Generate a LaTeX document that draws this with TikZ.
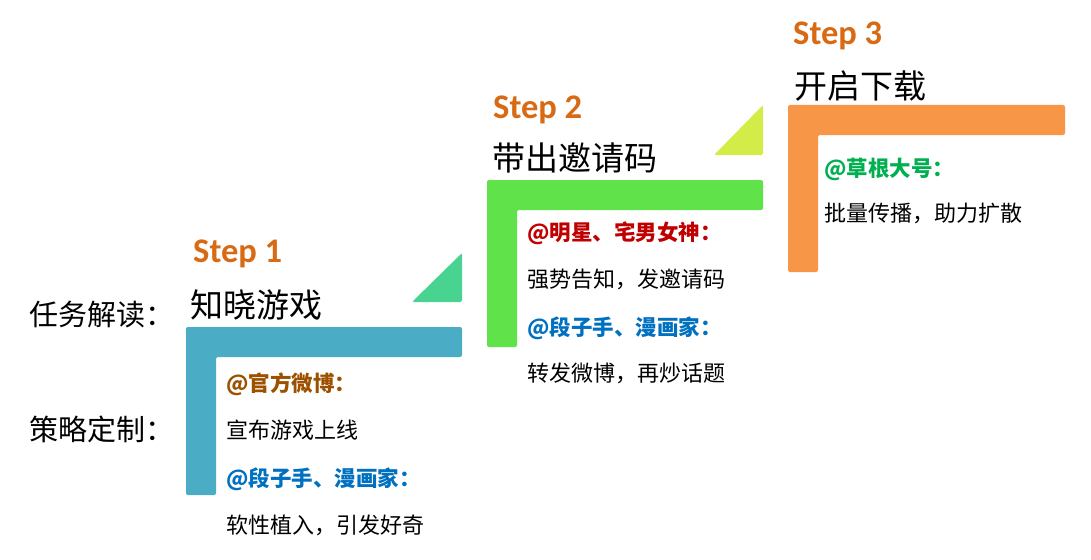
\documentclass[tikz,border=0pt]{standalone}
\usepackage{fontspec}
\setmainfont{Noto Sans CJK SC}
\newfontfamily\stepfont{Carlito}
\usetikzlibrary{positioning}

\definecolor{barA}{HTML}{4BACC6}
\definecolor{barB}{HTML}{5FE24A}
\definecolor{barC}{HTML}{F79646}
\definecolor{triA}{HTML}{48D490}
\definecolor{triB}{HTML}{D4EC48}
\definecolor{steporange}{HTML}{D86A14}
\definecolor{whoBrown}{HTML}{9C5100}
\definecolor{whoBlue}{HTML}{0070C0}
\definecolor{whoRed}{HTML}{C00000}
\definecolor{whoGreen}{HTML}{00B050}

\begin{document}
\begin{tikzpicture}[x=1pt,y=-1pt]
            \tikzstyle{steptitle}=[font=\stepfont\bfseries\fontsize{34.5}{34.5}\selectfont,text=steporange,anchor=base west,inner sep=0]
            \tikzstyle{task}=[font=\fontsize{33}{33}\selectfont,anchor=base west,inner sep=0]
            \tikzstyle{side}=[font=\fontsize{29}{29}\selectfont,anchor=base west,inner sep=0]
            \tikzstyle{act}=[font=\fontsize{22}{22}\selectfont,anchor=base west,inner sep=0]     % plain line
            \tikzstyle{who}=[act,font=\bfseries\fontsize{21.5}{21.5}\selectfont]               % account line
            \tikzstyle{bar}=[rounded corners=2pt]

            \useasboundingbox (0,0) rectangle (1091,559);

            % step shapes
            \fill[bar,barA] (186,327) -- (462,327) -- (462,357) -- (216,357) -- (216,495) -- (186,495) -- cycle;
            \fill[bar,barB] (487,180) -- (763,180) -- (763,210) -- (517,210) -- (517,347) -- (487,347) -- cycle;
            \fill[bar,barC] (788,105) -- (1065,105) -- (1065,135) -- (818,135) -- (818,272) -- (788,272) -- cycle;

            \fill[bar,triA] (412,302) -- (462,253) -- (462,302) -- cycle;
            \fill[bar,triB] (714,155) -- (763,105) -- (763,155) -- cycle;

            % left column
            \node[side] (task)  at (29,325) {任务解读：};
            \node[side] (plan)  at (29,440) {策略定制：};

            % step 1
            \node[steptitle] (s1) at (193,262) {Step 1};
            \node[task] (s1task) at (190,317) {知晓游戏};
            \node[who,text=whoBrown] (s1who1) at (226,391) {@官方微博：};
            \node[act] (s1act1) at (226,438) {宣布游戏上线};
            \node[who,text=whoBlue] (s1who2) at (226,486) {@段子手、漫画家：};
            \node[act] (s1act2) at (226,533) {软性植入，引发好奇};

            % step 2
            \node[steptitle] (s2) at (493,118) {Step 2};
            \node[task] (s2task) at (492,170) {带出邀请码};
            \node[who,text=whoRed] (s2who1) at (527,240) {@明星、宅男女神：};
            \node[act] (s2act1) at (527,287) {强势告知，发邀请码};
            \node[who,text=whoBlue] (s2who2) at (527,335) {@段子手、漫画家：};
            \node[act] (s2act2) at (527,381) {转发微博，再炒话题};

            % step 3
            \node[steptitle] (s3) at (793,45) {Step 3};
            \node[task] (s3task) at (794,99) {开启下载};
            \node[who,text=whoGreen] (s3who1) at (824,176) {@草根大号：};
            \node[act] (s3act1) at (824,221) {批量传播，助力扩散};
\end{tikzpicture}
\end{document}
